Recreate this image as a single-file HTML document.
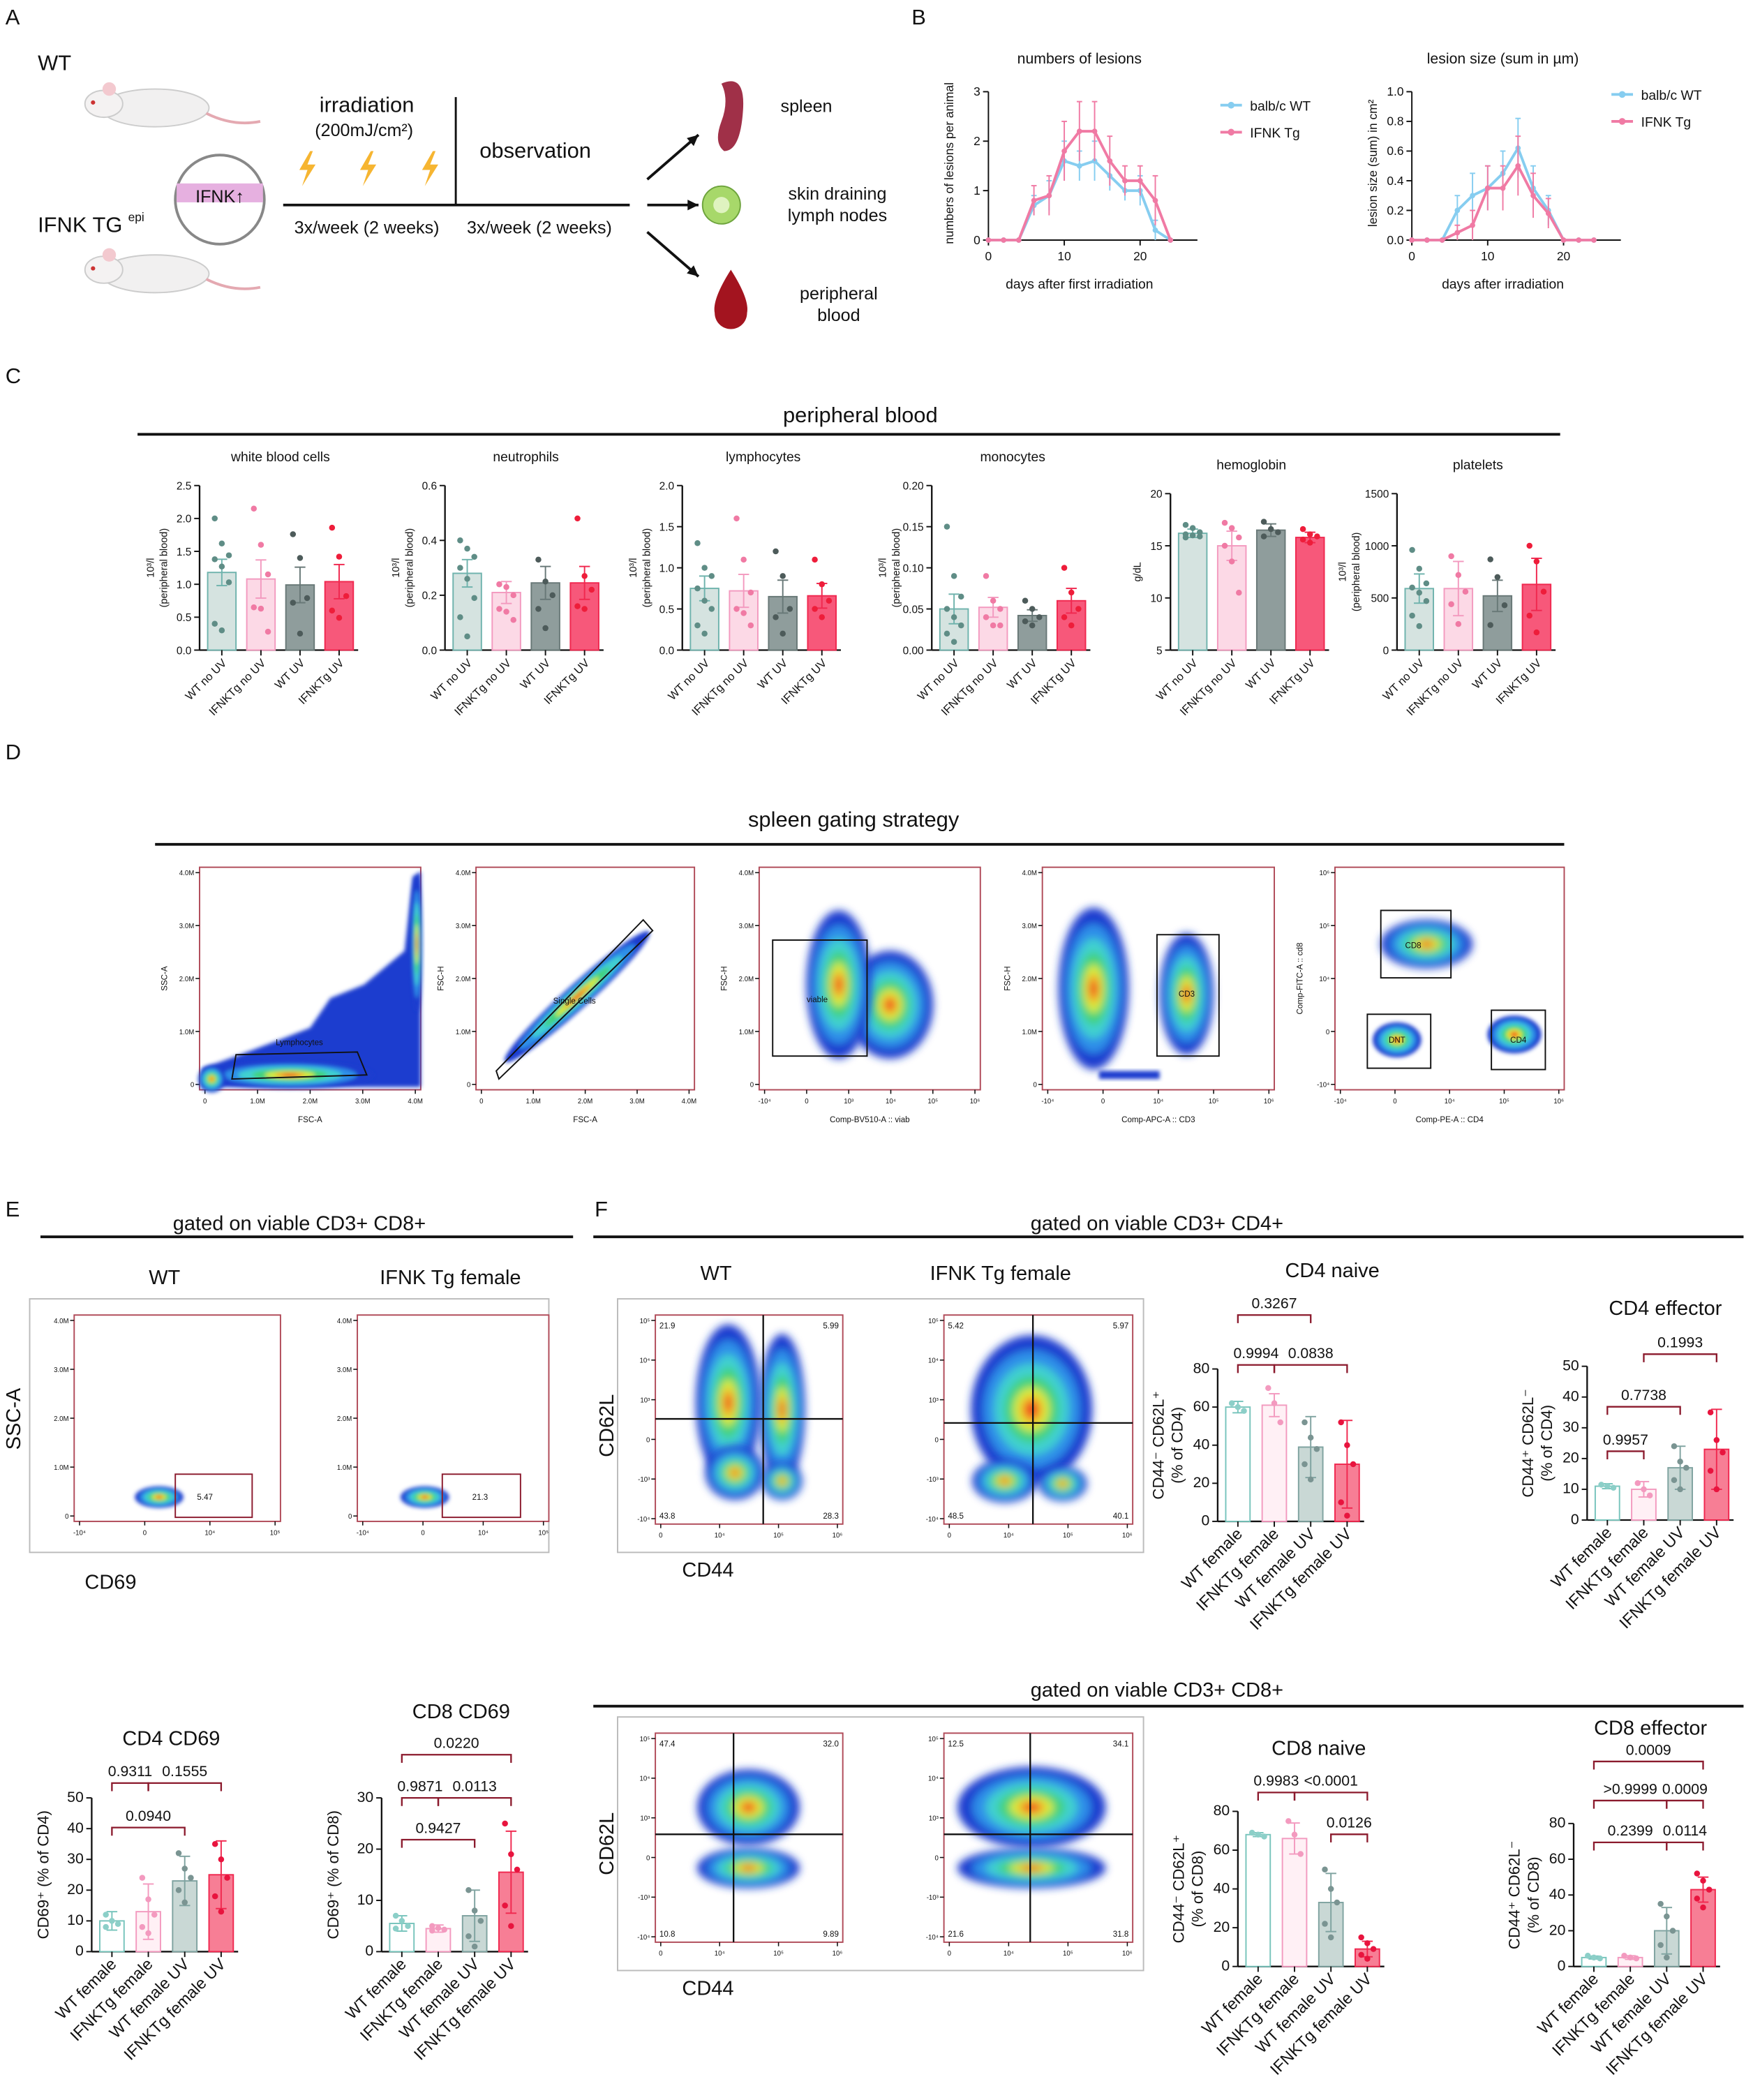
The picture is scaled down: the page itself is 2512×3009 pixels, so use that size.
<!DOCTYPE html>
<html><head><meta charset="utf-8">
<style>
html,body{margin:0;padding:0;background:#fff;}
svg{display:block;font-family:"Liberation Sans",Arial,sans-serif;}
</style></head>
<body>
<svg id="fig" xmlns="http://www.w3.org/2000/svg" width="2512" height="3009" viewBox="0 0 1300 1557" preserveAspectRatio="none">
<defs>
<filter id="blur" x="-30%" y="-30%" width="160%" height="160%"><feGaussianBlur stdDeviation="3"/></filter>
<filter id="blur2" x="-30%" y="-30%" width="160%" height="160%"><feGaussianBlur stdDeviation="1.5"/></filter>
</defs>
<g id="root"></g>
</svg>
<script>
// ===== Panel B data =====
const lesionDays = [0,2,4,6,8,10,12,14,16,18,20,22,24];
const lesionsWT = [0,0,0,0.7,0.9,1.6,1.5,1.6,1.3,1.0,1.0,0.2,0];
const lesionsTg = [0,0,0,0.8,0.9,1.8,2.2,2.2,1.6,1.2,1.2,0.8,0];
const lesionsErrWT = [0,0,0,0.2,0.3,0.4,0.3,0.4,0.3,0.2,0.3,0.2,0];
const lesionsErrTg = [0,0,0,0.3,0.4,0.6,0.6,0.6,0.5,0.3,0.3,0.5,0];
const sizeWT = [0,0,0,0.2,0.3,0.35,0.45,0.62,0.35,0.2,0,0,0];
const sizeTg = [0,0,0,0.05,0.1,0.35,0.35,0.5,0.3,0.18,0,0,0];
const sizeErrWT = [0,0,0,0.1,0.15,0.15,0.15,0.2,0.15,0.1,0,0,0];
const sizeErrTg = [0,0,0,0.05,0.1,0.15,0.15,0.2,0.15,0.1,0,0,0];
const lesionTicks = [0,1,2,3];
const sizeTicks = [0,0.2,0.4,0.6,0.8,1.0];
const dayTicks = [0,10,20];

// ===== Panel C data =====
const bloodGroups = ["WT no UV","IFNKTg no UV","WT UV","IFNKTg UV"];
const wbcMeans = [1.18,1.08,0.99,1.04];
const wbcErr = [0.2,0.29,0.27,0.26];
const wbcDots = [[2.0,1.62,1.44,1.38,1.27,1.03,0.4,0.3],[2.15,1.6,1.15,0.65,0.63,0.28],[1.76,1.4,0.79,0.72,0.25],[1.86,1.42,0.82,0.6,0.49]];
const neutMeans = [0.28,0.21,0.245,0.245];
const neutErr = [0.05,0.04,0.06,0.06];
const neutDots = [[0.4,0.37,0.34,0.3,0.26,0.19,0.12,0.05],[0.24,0.23,0.2,0.15,0.14,0.11],[0.33,0.25,0.2,0.15,0.08],[0.48,0.27,0.22,0.16,0.15]];
const lymphMeans = [0.75,0.72,0.65,0.66];
const lymphErr = [0.15,0.2,0.2,0.15];
const lymphDots = [[1.3,1.0,0.9,0.75,0.6,0.5,0.3,0.2],[1.6,1.1,0.7,0.5,0.45,0.3],[1.2,0.9,0.5,0.4,0.2],[1.1,0.8,0.6,0.5,0.4]];
const monoMeans = [0.05,0.052,0.042,0.06];
const monoErr = [0.018,0.012,0.007,0.015];
const monoDots = [[0.15,0.09,0.065,0.05,0.04,0.03,0.02,0.01],[0.09,0.06,0.05,0.04,0.03,0.03],[0.06,0.05,0.04,0.035,0.03],[0.1,0.07,0.05,0.04,0.03]];
const hemoMeans = [16.2,15.0,16.5,15.8];
const hemoErr = [0.4,1.4,0.6,0.5];
const hemoDots = [[17,16.7,16.3,16.1,16.0,15.9,15.8],[17.2,16.7,15.8,15.0,13.5,10.5],[17.3,16.6,16.3,15.9],[16.6,16.1,15.9,15.6,15.3]];
const plateMeans = [590,590,520,630];
const plateErr = [140,260,150,250];
const plateDots = [[960,780,640,600,550,470,330,230],[900,720,560,440,250],[870,700,430,240],[1000,850,560,330,170]];

// ===== Panel E/F data =====
const femaleGroups = ["WT female","IFNKTg female","WT female UV","IFNKTg female UV"];
const cd4NaiveMeans = [60,61,39,30];
const cd4NaiveErr = [3,6,16,23];
const cd4NaiveDots = [[62,60,58],[70,62,52],[52,44,38,30,22],[52,40,30,10,3]];
const cd4NaiveP = ["0.3267","0.9994","0.0838"];
const cd4EffMeans = [11,10,17,23];
const cd4EffErr = [0.8,2.5,7,13];
const cd4EffDots = [[11.5,11,10.5],[12,10,8],[24,19,17,13,10],[35,26,22,16,10]];
const cd4EffP = ["0.1993","0.7738","0.9957"];
const cd4CD69Means = [10,13,23,25];
const cd4CD69Err = [3,9,8,11];
const cd4CD69Dots = [[12,10,9,8],[24,17,12,8,6],[32,27,24,20,16],[35,30,24,18,13]];
const cd4CD69P = ["0.9311","0.1555","0.0940"];
const cd8CD69Means = [5.5,4.5,7,15.5];
const cd8CD69Err = [1.5,0.7,5,8];
const cd8CD69Dots = [[7,6,5,4.5],[5,4.6,4.3,4.1],[12,8,6,3,1],[25,19,16,9,5]];
const cd8CD69P = ["0.0220","0.9871","0.0113","0.9427"];
const cd8NaiveMeans = [68,66,33,9];
const cd8NaiveErr = [1,8,15,4];
const cd8NaiveDots = [[69,68,67],[75,68,58],[50,40,33,22,15],[15,12,9,6,4]];
const cd8NaiveP = ["0.9983","<0.0001","0.0126"];
const cd8EffMeans = [5,5,20,43];
const cd8EffErr = [0.8,1,13,7];
const cd8EffDots = [[6,5,4.5],[6,5,4.5],[35,28,20,12,5],[52,48,43,38,33]];
const cd8EffP = ["0.0009",">0.9999","0.0009","0.2399","0.0114"];

const NS="http://www.w3.org/2000/svg";
const root=document.getElementById('root');
function el(tag,attrs,parent,txt){const e=document.createElementNS(NS,tag);for(const k in attrs)e.setAttribute(k,attrs[k]);if(txt!==undefined)e.textContent=txt;(parent||root).appendChild(e);return e;}
function T(x,y,s,size,opts){opts=opts||{};const t=el('text',{x:x,y:y,'font-size':size||10,'text-anchor':opts.anchor||'middle',fill:opts.fill||'#111'},opts.parent,s);
if(opts.rot!==undefined)t.setAttribute('transform','rotate('+opts.rot+' '+x+' '+y+')');


return t;}
function L(x1,y1,x2,y2,c,w,p){const l=el('line',{x1:x1,y1:y1,x2:x2,y2:y2,stroke:c||'#111','stroke-width':w||1},p);return l;}

// ===== Panel letters =====
[["A",4,18],["B",676,18],["C",4,284],["D",4,563],["E",4,902],["F",441,902]].forEach(a=>{T(a[1],a[2],a[0],16,{anchor:'start',name:'panel-letter-'+a[0].toLowerCase()});});

// ===== Panel A schematic =====
const gA=el('g',{});
T(28,52,"WT",16,{anchor:'start',parent:gA,name:'wt-label'});
function mouse(x,y){el('ellipse',{cx:x,cy:y,rx:40,ry:14,fill:'#f1f0f0',stroke:'#ccc'},gA);el('ellipse',{cx:x-38,cy:y-3,rx:14,ry:10,fill:'#f4f2f2',stroke:'#ccc'},gA);el('circle',{cx:x-34,cy:y-14,r:5,fill:'#f3c9cf'},gA);el('circle',{cx:x-46,cy:y-4,r:1.6,fill:'#c33'},gA);el('path',{d:'M'+(x+38)+' '+(y+4)+' q20 10 40 6',stroke:'#e4a9b1','stroke-width':2,fill:'none'},gA);}
mouse(115,80);mouse(115,203);
el('circle',{cx:163,cy:148,r:33,fill:'#fff',stroke:'#888','stroke-width':2},gA);
el('rect',{x:131,y:136,width:64,height:14,fill:'#e6b0e0'},gA);
T(163,150,"IFNK↑",13,{parent:gA,name:'ifnk-inset'});
T(28,172,"IFNK TG",16,{anchor:'start',parent:gA,name:'ifnk-tg-label'});T(95,164,"epi",9,{anchor:'start',parent:gA,name:'epi-superscript'});
T(272,83,"irradiation",16,{parent:gA,name:'irradiation-label'});T(270,101,"(200mJ/cm²)",13,{parent:gA,name:'dose-label'});
[226,271,317].forEach(x=>{el('path',{d:`M${x+4} ${112} l-8 14 h6 l-4 12 l10 -16 h-6 l4 -10z`,fill:'#f6b531'},gA);});
L(338,72,338,152,'#111',1.5,gA);L(210,152,467,152,'#111',2,gA);
T(397,117,"observation",16,{parent:gA,name:'observation-label'});
T(272,173,"3x/week (2 weeks)",13,{parent:gA,name:'irradiation-schedule'});T(400,173,"3x/week (2 weeks)",13,{parent:gA,name:'observation-schedule'});
[[480,133,518,100],[480,152,518,152],[480,172,518,205]].forEach(a=>{L(a[0],a[1],a[2],a[3],'#111',2,gA);const ang=Math.atan2(a[3]-a[1],a[2]-a[0]);const hx=a[2],hy=a[3];el('path',{d:`M${hx} ${hy} L${hx-9*Math.cos(ang-0.45)} ${hy-9*Math.sin(ang-0.45)} L${hx-9*Math.cos(ang+0.45)} ${hy-9*Math.sin(ang+0.45)}Z`,fill:'#111'},gA);});
el('path',{d:'M535 62 q18 -8 16 20 q-2 30 -14 30 q-8 -6 -2 -22 q6 -16 0 -28z',fill:'#a03048'},gA);
el('circle',{cx:535,cy:152,r:14,fill:'#a7d86a',stroke:'#6da33c'},gA);el('circle',{cx:535,cy:152,r:6,fill:'#dff3c0'},gA);
el('path',{d:'M542 200 q-14 22 -12 32 a12 12 0 0 0 24 0 q2 -10 -12 -32z',fill:'#a3141f'},gA);
T(598,83,"spleen",13,{parent:gA,name:'spleen-label'});
T(621,148,"skin draining",13,{parent:gA,name:'lymph-node-label'});T(621,164,"lymph nodes",13,{parent:gA,name:'lymph-node-label'});
T(622,222,"peripheral",13,{parent:gA,name:'blood-label'});T(622,238,"blood",13,{parent:gA,name:'blood-label'});

// ===== Panel B line charts =====
function lineChart(o){
 const g=el('g',{});
 const sx=d=>o.x0+(d-0)*(o.x1-o.x0)/(o.xmax);const sy=v=>o.y0-(v-o.ymin)*(o.y0-o.y1)/(o.ymax-o.ymin);
 L(o.x0,o.y0,o.x0,o.y1,'#111',1,g);L(o.x0,o.y0,o.x1+20,o.y0,'#111',1,g);
 o.yt.forEach(t=>{L(o.x0-4,sy(t),o.x0,sy(t),'#111',1,g);T(o.x0-6,sy(t)+3,o.yfmt(t),9,{anchor:'end',parent:g,name:'y-tick-label'});});
 dayTicks.forEach(t=>{L(sx(t),o.y0,sx(t),o.y0+4,'#111',1,g);T(sx(t),o.y0+15,String(t),9,{parent:g,name:'x-tick-label'});});
 T((o.x0+o.x1)/2,o.y1-21,o.title,11,{parent:g,name:'chart-title'});
 T((o.x0+o.x1)/2,o.y0+36,o.xlab,10,{parent:g,name:'x-axis-title'});
 T(o.x0-26,(o.y0+o.y1)/2-2,o.ylab,9,{rot:-90,parent:g,name:'y-axis-title'});
 o.series.forEach((s,si)=>{
  const sg=el('g',{},g);
  let d='';lesionDays.forEach((dd,i)=>{d+=(i?'L':'M')+sx(dd)+' '+sy(s.v[i]);});
  s.v.forEach((v,i)=>{if(s.e[i]>0){L(sx(lesionDays[i]),sy(v-s.e[i]),sx(lesionDays[i]),sy(v+s.e[i]),s.c,1,sg);L(sx(lesionDays[i])-2,sy(v+s.e[i]),sx(lesionDays[i])+2,sy(v+s.e[i]),s.c,1,sg);}});
  el('path',{d:d,stroke:s.c,'stroke-width':2,fill:'none'},sg);
  s.v.forEach((v,i)=>{const c=el('circle',{cx:sx(lesionDays[i]),cy:sy(v),r:2,fill:s.c},sg);});
  const ly=o.legY+si*20;L(o.legX,ly,o.legX+16,ly,s.c,2,g);el('circle',{cx:o.legX+8,cy:ly,r:2.5,fill:s.c},g);
  T(o.legX+22,ly+4,s.label,10,{anchor:'start',parent:g,name:'legend-entry'});
 });
}
lineChart({name:'lesion-count-chart',x0:733,x1:868,y0:178,y1:68,xmax:24,ymin:0,ymax:3,yt:lesionTicks,yfmt:t=>String(t),title:'numbers of lesions',xlab:'days after first irradiation',ylab:'numbers of lesions per animal',legX:905,legY:78,
 series:[{key:'wt',label:'balb/c WT',c:'#86cdf0',v:lesionsWT,e:lesionsErrWT},{key:'tg',label:'IFNK Tg',c:'#f07aa4',v:lesionsTg,e:lesionsErrTg}]});
lineChart({name:'lesion-size-chart',x0:1047,x1:1182,y0:178,y1:68,xmax:24,ymin:0,ymax:1,yt:sizeTicks,yfmt:t=>t.toFixed(1),title:'lesion size (sum in µm)',xlab:'days after irradiation',ylab:'lesion size (sum) in cm²',legX:1195,legY:70,
 series:[{key:'wt',label:'balb/c WT',c:'#86cdf0',v:sizeWT,e:sizeErrWT},{key:'tg',label:'IFNK Tg',c:'#f07aa4',v:sizeTg,e:sizeErrTg}]});

// ===== Bar chart helper =====
const bloodFill=['#d5e3e0','#fcd9e6','#8f9d9c','#f7587a'];
const bloodEdge=['#6fb3ad','#f39abf','#687877','#f0284f'];
const bloodDot=['#5f8d86','#f07aa4','#4d5b5a','#ee1d3a'];
const femFill=['#ffffff','#fff0f5','#c9d8d5','#f77e95'];
const femEdge=['#77c4bc','#f39abf','#7fa3a0','#f0284f'];
const femDot=['#8ccfc8','#f39abf','#7a9492','#e8143e'];
function barChart(o){
 const g=el('g',{});
 const sy=v=>o.y0-(v-o.ymin)*(o.y0-o.y1)/(o.ymax-o.ymin);
 const bx=i=>o.ax+o.gap+i*o.step;
 L(o.ax,o.y0,o.ax,o.y1,'#111',1.2,g);L(o.ax,o.y0,o.ax+o.gap+3*o.step+o.bw+o.gap*0.6,o.y0,'#111',1.2,g);
 o.ticks.forEach(t=>{L(o.ax-4,sy(t),o.ax,sy(t),'#111',1,g);T(o.ax-6,sy(t)+3,o.tfmt?o.tfmt(t):String(t),o.tfs||8,{anchor:'end',parent:g,name:'y-tick-label'});});
 o.means.forEach((m,i)=>{
  const x=bx(i);
  const r=el('rect',{x:x,y:sy(m),width:o.bw,height:o.y0-sy(m),fill:o.fill[i],stroke:o.edge[i],'stroke-width':1},g);
  
  const cx=x+o.bw/2;
  L(cx,sy(m-o.err[i]),cx,sy(m+o.err[i]),o.edge[i],1,g);L(cx-4,sy(m+o.err[i]),cx+4,sy(m+o.err[i]),o.edge[i],1,g);L(cx-4,sy(m-o.err[i]),cx+4,sy(m-o.err[i]),o.edge[i],1,g);
  L(cx,o.y0,cx,o.y0+4,'#111',1,g);
  o.dots[i].forEach((v,j)=>{const off=(j%3-1)*o.bw*0.25;const c=el('circle',{cx:cx+off,cy:sy(v),r:2.2,fill:o.dotc[i]},g);});
  T(cx+4,o.y0+10,o.cats[i],o.lfs||9,{anchor:'end',rot:-45,parent:g,name:'x-tick-label'});
 });
 T(o.tx!==undefined?o.tx:(o.ax+o.gap+1.5*o.step+o.bw/2),o.y1-o.tdy,o.title,o.tfsz||11,{parent:g,name:'chart-title'});
 o.ylab.forEach((s,k)=>T(o.ax-o.yl+k*(o.ylg||11),(o.y0+o.y1)/2,s,o.ylfs||8,{rot:-90,parent:g,name:'y-axis-title'}));
 (o.brackets||[]).forEach(b=>{const xa=bx(b[0])+o.bw/2,xb=bx(b[1])+o.bw/2;const y=b[2];
  const pg=el('g',{},g);
  el('path',{d:`M${xa} ${y+6} V${y} H${xb} V${y+6}`,stroke:'#8b1a2d','stroke-width':1.2,fill:'none'},pg);
  T((xa+xb)/2,y-5,b[3],11,{parent:pg,name:'p-value'});});
 return g;
}
// Panel C
const hdrC=el('g',{});
T(638,313,"peripheral blood",16,{parent:hdrC,name:'peripheral-blood-title'});L(102,322,1157,322,'#111',2,hdrC);
const cBase={y0:482,step:29,bw:21,gap:6,cats:bloodGroups,fill:bloodFill,edge:bloodEdge,dotc:bloodDot,tdy:18,tfsz:10,yl:34,ylg:10,ylfs:7.5,lfs:8.5};
barChart(Object.assign({},cBase,{name:'wbc-chart',ax:148,y1:360,ymin:0,ymax:2.5,ticks:[0,0.5,1,1.5,2,2.5],tfmt:t=>t.toFixed(1),means:wbcMeans,err:wbcErr,dots:wbcDots,title:'white blood cells',ylab:['10³/l','(peripheral blood)']}));
barChart(Object.assign({},cBase,{name:'neutrophils-chart',ax:330,y1:360,ymin:0,ymax:0.6,ticks:[0,0.2,0.4,0.6],tfmt:t=>t.toFixed(1),means:neutMeans,err:neutErr,dots:neutDots,title:'neutrophils',ylab:['10³/l','(peripheral blood)']}));
barChart(Object.assign({},cBase,{name:'lymphocytes-chart',ax:506,y1:360,ymin:0,ymax:2,ticks:[0,0.5,1,1.5,2],tfmt:t=>t.toFixed(1),means:lymphMeans,err:lymphErr,dots:lymphDots,title:'lymphocytes',ylab:['10³/l','(peripheral blood)']}));
barChart(Object.assign({},cBase,{name:'monocytes-chart',ax:691,y1:360,ymin:0,ymax:0.2,ticks:[0,0.05,0.1,0.15,0.2],tfmt:t=>t.toFixed(2),means:monoMeans,err:monoErr,dots:monoDots,title:'monocytes',ylab:['10³/l','(peripheral blood)']}));
barChart(Object.assign({},cBase,{name:'hemoglobin-chart',ax:868,y1:366,ymin:5,ymax:20,ticks:[5,10,15,20],means:hemoMeans,err:hemoErr,dots:hemoDots,title:'hemoglobin',ylab:['g/dL'],yl:22}));
barChart(Object.assign({},cBase,{name:'platelets-chart',ax:1036,y1:366,ymin:0,ymax:1500,ticks:[0,500,1000,1500],means:plateMeans,err:plateErr,dots:plateDots,title:'platelets',ylab:['10³/l','(peripheral blood)'],yl:38}));

// ===== Flow plots =====
function blob(g,cx,cy,rx,ry,rot,small){
 const bg=el('g',{transform:`rotate(${rot||0} ${cx} ${cy})`,filter:small?'url(#blur2)':'url(#blur)'},g);
 [['#1b3ccf',1],['#2f8fe8',0.8],['#3fd0d0',0.62],['#43d27a',0.45],['#d8ec3a',0.3],['#f5a028',0.18],['#ea2a1c',0.09]].forEach(c=>{el('ellipse',{cx:cx,cy:cy,rx:rx*c[1],ry:ry*c[1],fill:c[0]},bg);});
}
function flowBox(name,x,y,w,h,xt,yt,xlab,ylab){
 const g=el('g',{});
 el('rect',{x:x,y:y,width:w,height:h,fill:'#fff',stroke:'#b04a58','stroke-width':1},g);
 (yt||[]).forEach((t,i)=>{const yy=y+h-4-i*(h-8)/(yt.length-1);L(x-3,yy,x,yy,'#111',0.8,g);T(x-4,yy+2,t,5,{anchor:'end',parent:g,name:'y-tick-label'});});
 (xt||[]).forEach((t,i)=>{const xx=x+4+i*(w-8)/(xt.length-1);L(xx,y+h,xx,y+h+3,'#111',0.8,g);T(xx,y+h+10,t,5,{parent:g,name:'x-tick-label'});});
 if(xlab)T(x+w/2,y+h+24,xlab,6,{parent:g,name:'x-axis-title'});
 if(ylab)T(x-24,y+h/2,ylab,6,{rot:-90,parent:g,name:'y-axis-title'});
 return g;
}
const hdrD=el('g',{});
T(633,613,"spleen gating strategy",16,{parent:hdrD,name:'gating-title'});L(115,626,1160,626,'#111',2,hdrD);
const lin=['0','1.0M','2.0M','3.0M','4.0M'];
let g;
g=flowBox('fsc-ssc-plot',148,643,164,165,['0','1.0M','2.0M','3.0M','4.0M'],lin,'FSC-A','SSC-A');
el('path',{d:'M150 806 L150 792 Q190 778 230 762 L245 740 L270 730 L300 705 L306 650 L312 646 L312 806Z',fill:'#1b3ccf',filter:'url(#blur2)'},g);
blob(g,215,797,62,10,0,true);blob(g,157,800,10,10,0,true);blob(g,309,700,4,50,0,true);
el('path',{d:'M175 782 L265 780 L272 797 L172 800Z',fill:'none',stroke:'#111','stroke-width':1},g);T(222,775,'Lymphocytes',6,{parent:g,name:'gate-label'});
g=flowBox('fsc-singlets-plot',353,643,162,165,['0','1.0M','2.0M','3.0M','4.0M'],lin,'FSC-A','FSC-H');
blob(g,428,739,72,9,-42,true);
el('path',{d:'M370 810 L368 804 L477 692 L484 700 Z',fill:'none',stroke:'#111','stroke-width':1,transform:'translate(0,-10)'},g);T(426,744,'Single Cells',6,{parent:g,name:'gate-label'});
g=flowBox('viability-plot',563,643,164,165,['-10⁴','0','10³','10⁴','10⁵','10⁶'],lin,'Comp-BV510-A :: viab','FSC-H');
blob(g,660,745,32,40,0);blob(g,622,730,24,55,0);
el('rect',{x:573,y:697,width:70,height:86,fill:'none',stroke:'#111','stroke-width':1},g);T(606,743,'viable',6,{parent:g,name:'gate-label'});
g=flowBox('cd3-plot',773,643,172,165,['-10⁴','0','10⁴','10⁵','10⁶'],lin,'Comp-APC-A :: CD3','FSC-H');
blob(g,811,733,26,60,0);blob(g,880,737,20,45,0);el('rect',{x:815,y:794,width:45,height:6,fill:'#1b3ccf',filter:'url(#blur2)'},g);
el('rect',{x:858,y:693,width:46,height:90,fill:'none',stroke:'#111','stroke-width':1},g);T(880,739,'CD3',6,{parent:g,name:'gate-label'});
g=flowBox('cd4-cd8-plot',990,643,170,165,['-10⁴','0','10⁴','10⁵','10⁶'],['-10⁴','0','10⁴','10⁵','10⁶'],'Comp-PE-A :: CD4','Comp-FITC-A :: cd8');
blob(g,1058,700,34,18,0);blob(g,1036,771,18,13,0,true);blob(g,1123,767,20,14,0,true);
el('rect',{x:1024,y:675,width:52,height:50,fill:'none',stroke:'#111','stroke-width':1},g);T(1048,703,'CD8',6,{parent:g,name:'gate-label'});
el('rect',{x:1014,y:752,width:47,height:40,fill:'none',stroke:'#111','stroke-width':1},g);T(1036,773,'DNT',6,{parent:g,name:'gate-label'});
el('rect',{x:1106,y:749,width:40,height:44,fill:'none',stroke:'#111','stroke-width':1},g);T(1126,773,'CD4',6,{parent:g,name:'gate-label'});

// ===== Panel E =====
const hdrE=el('g',{});
T(222,912,"gated on viable CD3+ CD8+",15,{parent:hdrE,name:'panel-e-title'});L(30,917,425,917,'#111',2,hdrE);
T(122,952,"WT",15,{parent:hdrE,name:'wt-label'});T(334,952,"IFNK Tg female",15,{parent:hdrE,name:'ifnk-label'});
el('rect',{x:22,y:963,width:385,height:188,fill:'none',stroke:'#bbb','stroke-width':1},hdrE);
T(15,1052,"SSC-A",15,{rot:-90,parent:hdrE,name:'ssc-axis-title'});T(82,1178,"CD69",15,{parent:hdrE,name:'cd69-axis-title'});
const sscT=['0','1.0M','2.0M','3.0M','4.0M'];const cd69T=['-10⁴','0','10⁴','10⁵'];
g=flowBox('cd69-wt-plot',55,975,153,153,cd69T,sscT);blob(g,118,1110,18,8,0,true);
el('rect',{x:130,y:1093,width:57,height:32,fill:'none',stroke:'#8b1a2d','stroke-width':1},g);T(152,1112,'5.47',6,{parent:g,name:'gate-percent'});
g=flowBox('cd69-tg-plot',265,975,142,153,cd69T,sscT);blob(g,315,1110,18,8,0,true);
el('rect',{x:328,y:1093,width:58,height:32,fill:'none',stroke:'#8b1a2d','stroke-width':1},g);T(356,1112,'21.3',6,{parent:g,name:'gate-percent'});

// ===== Panel F =====
const hdrF=el('g',{});
T(858,912,"gated on viable CD3+ CD4+",15,{parent:hdrF,name:'panel-f-title-cd4'});L(440,917,1293,917,'#111',2,hdrF);
T(531,949,"WT",15,{parent:hdrF,name:'wt-label'});T(742,949,"IFNK Tg female",15,{parent:hdrF,name:'ifnk-label'});
T(858,1258,"gated on viable CD3+ CD8+",15,{parent:hdrF,name:'panel-f-title-cd8'});L(440,1265,1293,1265,'#111',2,hdrF);
el('rect',{x:458,y:963,width:390,height:188,fill:'none',stroke:'#bbb','stroke-width':1},hdrF);
el('rect',{x:458,y:1273,width:390,height:188,fill:'none',stroke:'#bbb','stroke-width':1},hdrF);
T(455,1057,"CD62L",15,{rot:-90,parent:hdrF,name:'cd62l-axis-title'});T(525,1169,"CD44",15,{parent:hdrF,name:'cd44-axis-title'});
T(455,1367,"CD62L",15,{rot:-90,parent:hdrF,name:'cd62l-axis-title'});T(525,1479,"CD44",15,{parent:hdrF,name:'cd44-axis-title'});
const logT=['-10⁴','-10³','0','10³','10⁴','10⁵'];const cd44T=['0','10⁴','10⁵','10⁶'];
function quad(name,x,y,w,h,qx,qy,pcts,blobs){
 const g=flowBox(name,x,y,w,h,cd44T,logT);
 blobs.forEach(b=>blob(g,b[0],b[1],b[2],b[3],0));
 L(x,qy,x+w,qy,'#111',1.2,g);L(qx,y,qx,y+h,'#111',1.2,g);
 T(x+3,y+10,pcts[0],6,{anchor:'start',parent:g,name:'quadrant-percent'});T(x+w-3,y+10,pcts[1],6,{anchor:'end',parent:g,name:'quadrant-percent'});
 T(x+3,y+h-4,pcts[2],6,{anchor:'start',parent:g,name:'quadrant-percent'});T(x+w-3,y+h-4,pcts[3],6,{anchor:'end',parent:g,name:'quadrant-percent'});
}
quad('cd4-wt-quadrant',486,975,139,155,566,1052,['21.9','5.99','43.8','28.3'],[[540,1040,24,58],[580,1045,17,56],[545,1092,22,20],[580,1098,15,14]]);
quad('cd4-tg-quadrant',700,975,140,155,766,1055,['5.42','5.97','48.5','40.1'],[[765,1045,45,55],[745,1098,24,16],[788,1100,18,13]]);
quad('cd8-wt-quadrant',486,1285,139,155,544,1360,['47.4','32.0','10.8','9.89'],[[555,1340,38,28],[555,1385,38,15]]);
quad('cd8-tg-quadrant',700,1285,140,155,764,1360,['12.5','34.1','21.6','31.8'],[[765,1340,55,30],[765,1385,55,15]]);

const fBase={step:27,bw:18,gap:6,cats:femaleGroups,fill:femFill,edge:femEdge,dotc:femDot,tdy:0,tfsz:15,tfs:11,yl:40,ylg:14,ylfs:11.5,lfs:12};
barChart(Object.assign({},fBase,{name:'cd4-naive-chart',ax:903,y0:1128,y1:1015,ymin:0,ymax:80,ticks:[0,20,40,60,80],means:cd4NaiveMeans,err:cd4NaiveErr,dots:cd4NaiveDots,title:'CD4 naive',tx:988,tdy:68,
 ylab:['CD44⁻ CD62L⁺','(% of CD4)'],brackets:[[0,2,975,cd4NaiveP[0]],[0,1,1012,cd4NaiveP[1]],[1,3,1012,cd4NaiveP[2]]]}));
barChart(Object.assign({},fBase,{name:'cd4-effector-chart',ax:1177,y0:1127,y1:1013,ymin:0,ymax:50,ticks:[0,10,20,30,40,50],means:cd4EffMeans,err:cd4EffErr,dots:cd4EffDots,title:'CD4 effector',tx:1235,tdy:38,
 ylab:['CD44⁺ CD62L⁻','(% of CD4)'],brackets:[[1,3,1004,cd4EffP[0]],[0,2,1043,cd4EffP[1]],[0,1,1076,cd4EffP[2]]]}));
barChart(Object.assign({},fBase,{name:'cd4-cd69-chart',ax:68,y0:1447,y1:1333,ymin:0,ymax:50,ticks:[0,10,20,30,40,50],means:cd4CD69Means,err:cd4CD69Err,dots:cd4CD69Dots,title:'CD4 CD69',tx:127,tdy:39,
 ylab:['CD69⁺ (% of CD4)'],yl:32,brackets:[[0,1,1322,cd4CD69P[0]],[1,3,1322,cd4CD69P[1]],[0,2,1355,cd4CD69P[2]]]}));
barChart(Object.assign({},fBase,{name:'cd8-cd69-chart',ax:283,y0:1447,y1:1333,ymin:0,ymax:30,ticks:[0,10,20,30],means:cd8CD69Means,err:cd8CD69Err,dots:cd8CD69Dots,title:'CD8 CD69',tx:342,tdy:59,
 ylab:['CD69⁺ (% of CD8)'],yl:32,brackets:[[0,3,1301,cd8CD69P[0]],[0,1,1333,cd8CD69P[1]],[1,3,1333,cd8CD69P[2]],[0,2,1364,cd8CD69P[3]]]}));
barChart(Object.assign({},fBase,{name:'cd8-naive-chart',ax:918,y0:1458,y1:1343,ymin:0,ymax:80,ticks:[0,20,40,60,80],means:cd8NaiveMeans,err:cd8NaiveErr,dots:cd8NaiveDots,title:'CD8 naive',tx:978,tdy:42,
 ylab:['CD44⁻ CD62L⁺','(% of CD8)'],brackets:[[0,1,1329,cd8NaiveP[0]],[1,3,1329,cd8NaiveP[1]],[2,3,1360,cd8NaiveP[2]]]}));
barChart(Object.assign({},fBase,{name:'cd8-effector-chart',ax:1167,y0:1458,y1:1352,ymin:0,ymax:80,ticks:[0,20,40,60,80],means:cd8EffMeans,err:cd8EffErr,dots:cd8EffDots,title:'CD8 effector',tx:1224,tdy:66,
 ylab:['CD44⁺ CD62L⁻','(% of CD8)'],brackets:[[0,3,1306,cd8EffP[0]],[0,2,1335,cd8EffP[1]],[2,3,1335,cd8EffP[2]],[0,2,1366,cd8EffP[3]],[2,3,1366,cd8EffP[4]]]}));
</script>
</body></html>
